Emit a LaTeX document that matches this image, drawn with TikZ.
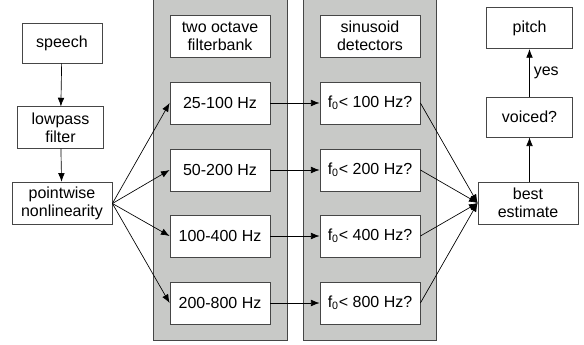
\documentclass[tikz,border=0pt]{standalone}
\usepackage{fontspec}
\setmainfont{Liberation Sans}
\usetikzlibrary{positioning,arrows.meta,backgrounds}
\definecolor{panelgray}{RGB}{200,201,199}
\definecolor{edgegray}{RGB}{70,70,70}

\begin{document}
\begin{tikzpicture}[x=0.75pt,y=-0.75pt,
  every node/.style={font=\fontsize{12}{13.5}\selectfont},
  block/.style={rectangle,draw=edgegray,line width=0.6pt,fill=white,align=center,
    minimum width=75pt,minimum height=31.5pt,inner sep=1pt},
  panel/.style={draw=edgegray,line width=0.6pt,fill=panelgray},
  flow/.style={-{Latex[length=6.5pt,width=5pt]},line width=0.5pt}]
\useasboundingbox (0,0) rectangle (584,345);

% gray panels
\draw[panel] (153,-5) rectangle (287,340);
\draw[panel] (303,-5) rectangle (436,340);

% input chain
\node[block,minimum width=60pt,minimum height=30pt] (speech) at (62,43) {speech};
\node[block,minimum width=64pt,minimum height=31pt] (lowpass) at (60.5,127.5) {lowpass\\filter};
\node[block,minimum height=32pt] (point) at (62,203.5) {pointwise\\nonlinearity};

% filterbank
\node[block] (fbank) at (220,36) {two octave\\filterbank};
\node[block] (f1) at (220,103) {25-100 Hz};
\node[block] (f2) at (220,170) {50-200 Hz};
\node[block] (f3) at (220,236) {100-400 Hz};
\node[block] (f4) at (220,303) {200-800 Hz};

% detectors
\node[block] (det) at (370,36) {sinusoid\\detectors};
\node[block] (d1) at (370,103) {f\textsubscript{0}< 100 Hz?};
\node[block] (d2) at (370,170) {f\textsubscript{0}< 200 Hz?};
\node[block] (d3) at (370,236) {f\textsubscript{0}< 400 Hz?};
\node[block] (d4) at (370,303) {f\textsubscript{0}< 800 Hz?};

% output chain
\node[block] (best) at (528,203) {best\\estimate};
\node[block,minimum width=64pt,minimum height=30pt] (voiced) at (529.5,117) {voiced?};
\node[block,minimum width=64pt,minimum height=31pt] (pitch) at (529.5,28) {pitch};

\draw[flow] (speech) -- (lowpass);
\draw[flow] (lowpass) -- (point);
\foreach \i in {1,...,4}{
  \draw[flow] (point.east) -- (f\i.west);
  \draw[flow] (f\i) -- (d\i);
  \draw[flow] (d\i.east) -- (best.west);
}
\draw[flow] (best.north -| voiced) -- (voiced);
\draw[flow] (voiced) -- node[right=2pt,inner sep=1pt] {yes} (pitch);
\end{tikzpicture}
\end{document}
